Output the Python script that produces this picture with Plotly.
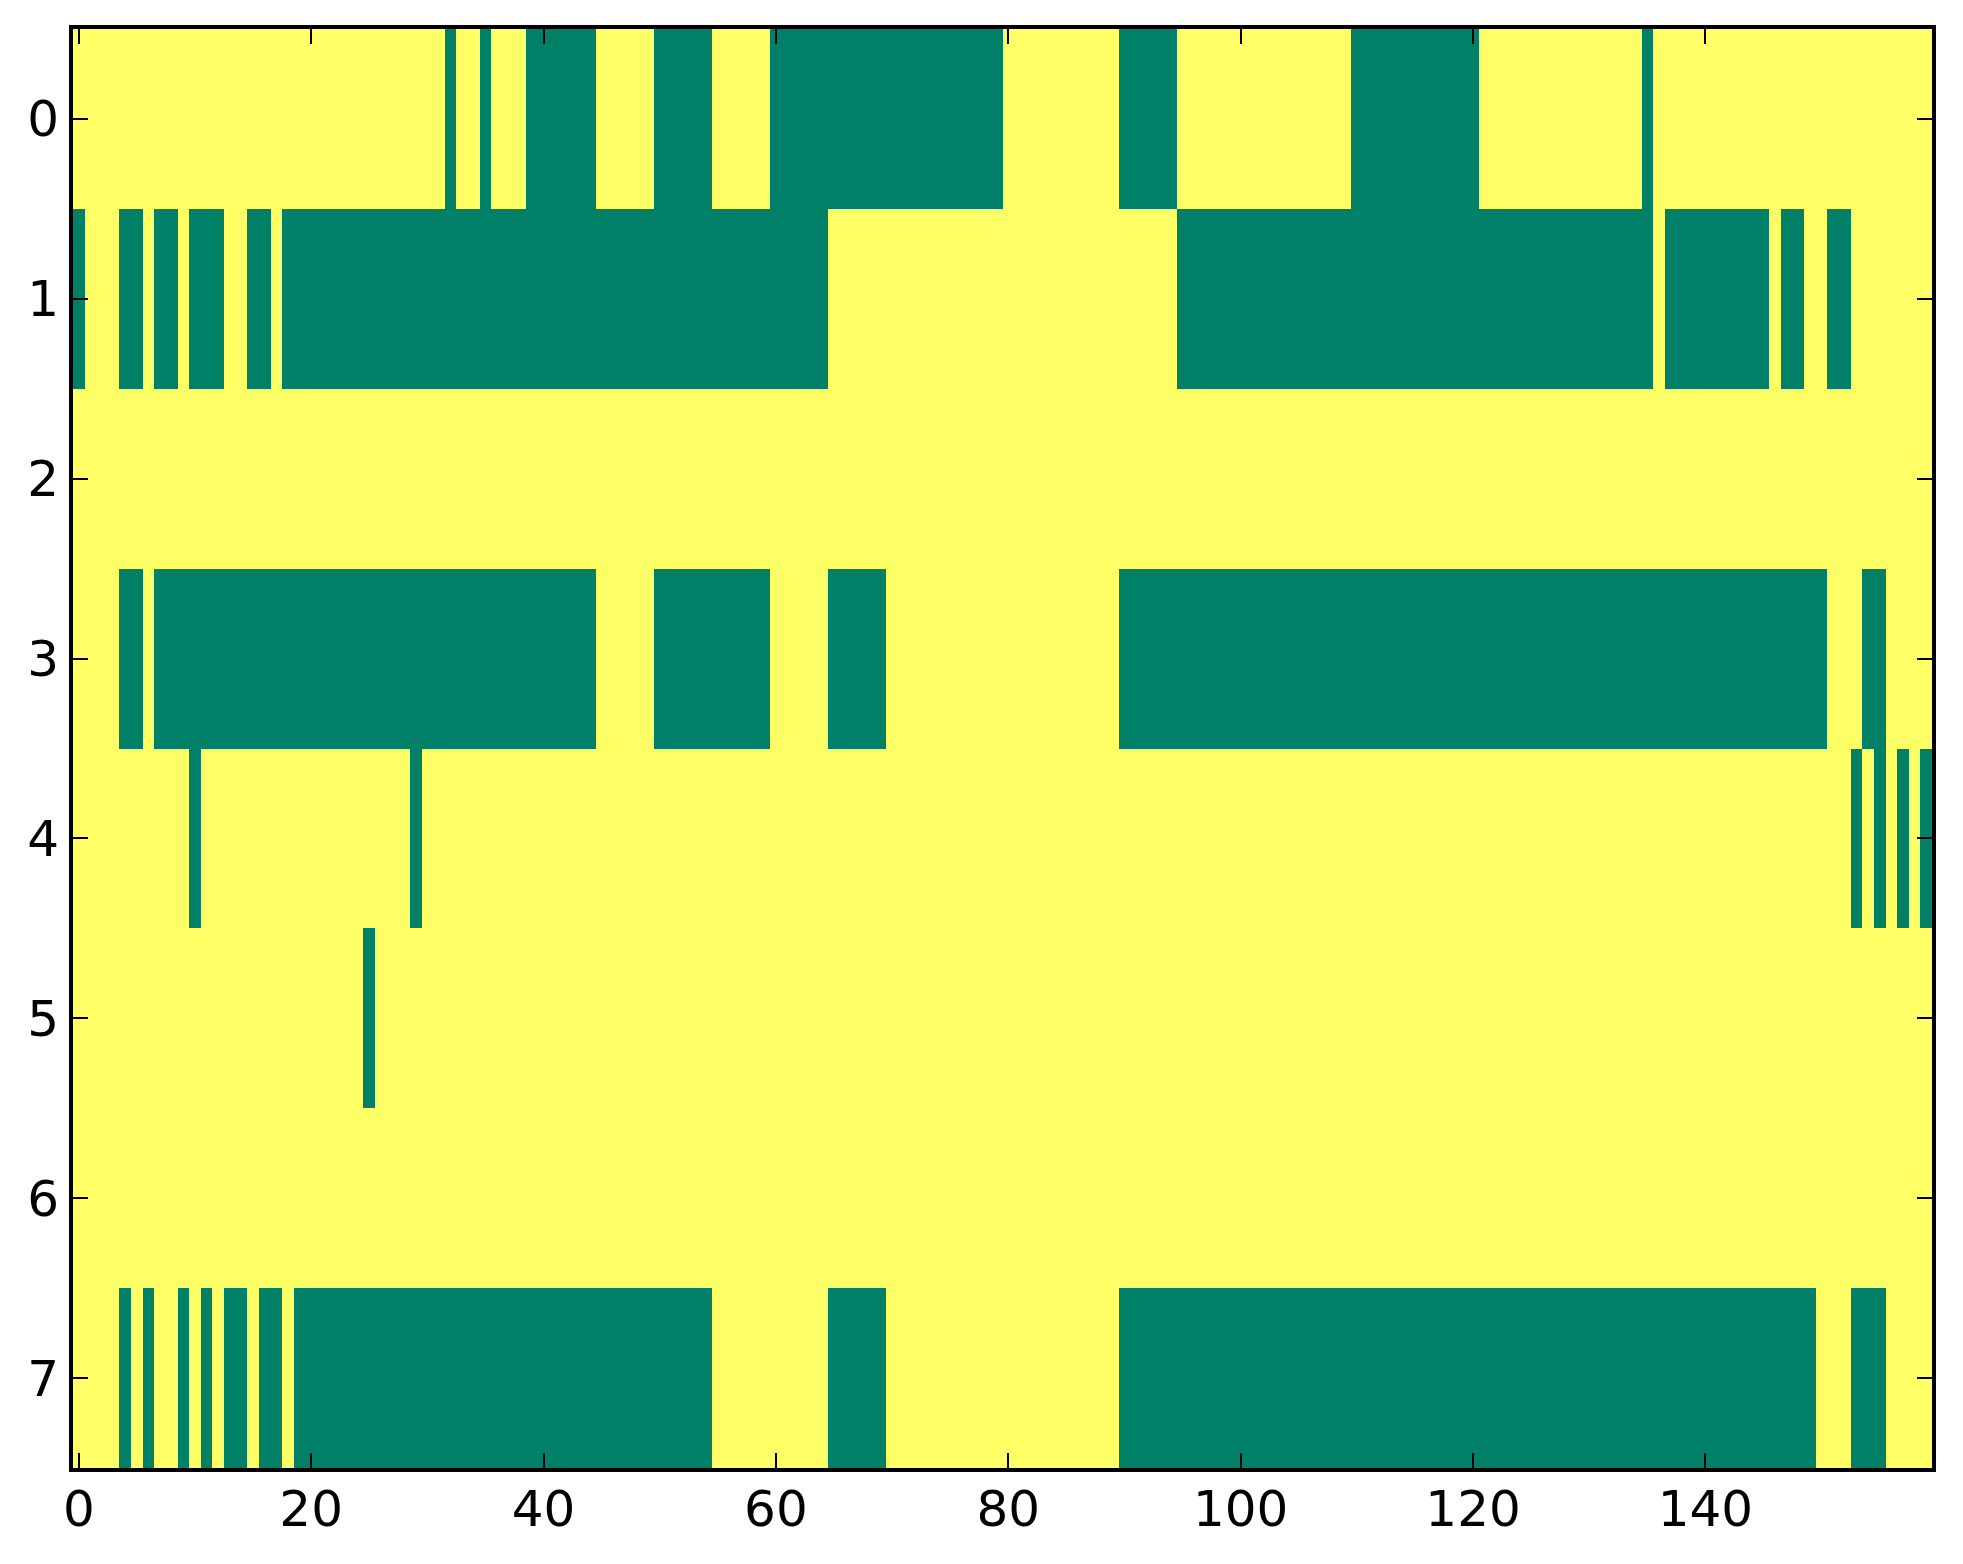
import plotly.graph_objects as go

n_cols = 160
row_labels = [0, 1, 2, 3, 4, 5, 6, 7]
x_ticks = [0, 20, 40, 60, 80, 100, 120, 140]

# green cells (value 0) per row, as inclusive column runs
row0_green = [(32, 32), (35, 35), (39, 44), (50, 54), (60, 79), (90, 94), (110, 120), (135, 135)]
row1_green = [(0, 0), (4, 5), (7, 8), (10, 12), (15, 16), (18, 64), (95, 135), (137, 145), (147, 148), (151, 152)]
row2_green = []
row3_green = [(4, 5), (7, 44), (50, 59), (65, 69), (90, 150), (154, 155)]
row4_green = [(10, 10), (29, 29), (153, 153), (155, 155), (157, 157), (159, 159)]
row5_green = [(25, 25)]
row6_green = []
row7_green = [(4, 4), (6, 6), (9, 9), (11, 11), (13, 14), (16, 17), (19, 54), (65, 69), (90, 149), (153, 155)]

all_rows = [row0_green, row1_green, row2_green, row3_green,
            row4_green, row5_green, row6_green, row7_green]

z = []
for runs in all_rows:
    row = [1] * n_cols
    for a, b in runs:
        for c in range(a, b + 1):
            row[c] = 0
    z.append(row)

fig = go.Figure()
fig.add_trace(go.Heatmap(
    z=z, x=list(range(n_cols)), y=row_labels,
    colorscale=[[0, '#008066'], [1, '#ffff66']],
    zmin=0, zmax=1, showscale=False, hoverinfo='skip',
))

axis_style = dict(
    showline=True, linecolor='black', linewidth=4, mirror='ticks',
    ticks='inside', ticklen=15, tickwidth=2, tickcolor='black',
    showgrid=False, zeroline=False,
    tickfont=dict(family='DejaVu Sans', size=50, color='black'),
)

fig.update_xaxes(range=[-0.5, n_cols - 0.5], tickvals=x_ticks,
                 ticklabelstandoff=-6, **axis_style)
fig.update_yaxes(range=[7.5, -0.5], tickvals=row_labels, **axis_style)

# page body has an 8px default margin, so the frame is shifted by that much
fig.update_layout(
    width=1963, height=1564,
    margin=dict(l=65, r=39, t=21, b=104),
    plot_bgcolor='white', paper_bgcolor='white',
    showlegend=False,
)

fig.write_html("out.html")
